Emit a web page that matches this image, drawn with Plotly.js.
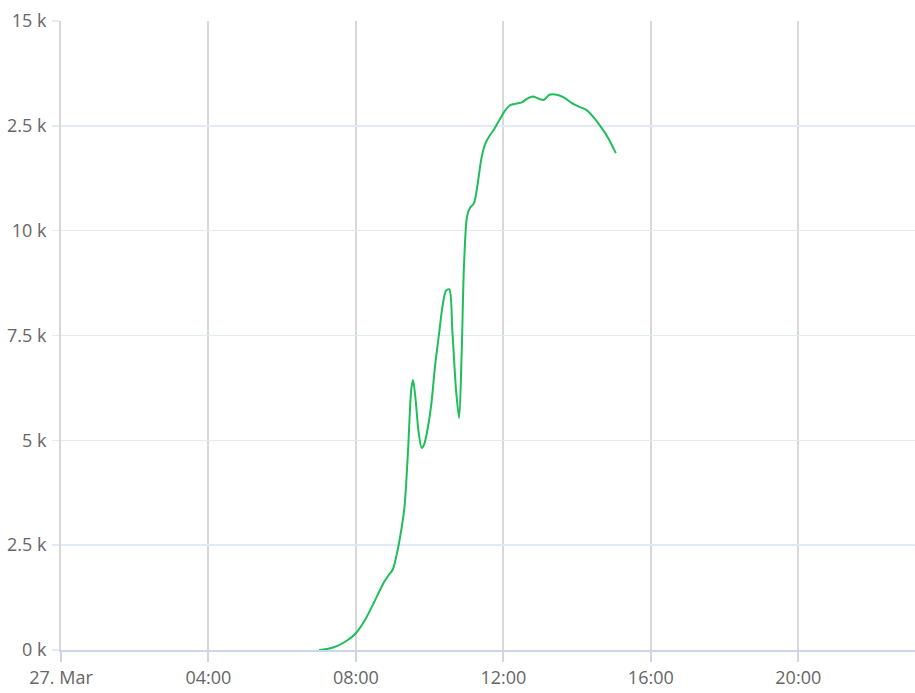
<!DOCTYPE html>
<html>
<head>
<meta charset="utf-8">
<script src="https://cdn.plot.ly/plotly-3.0.1.min.js"></script>
<style>html,body{margin:0;padding:0;background:#fff;}#chart{width:915px;height:693px;}</style>
</head>
<body>
<div id="chart"></div>
<script>
// Time of day (hours, 27 Mar) and power values (k)
const hours = [7.00,7.25,7.50,7.75,8.00,8.25,8.50,8.75,8.87,9.00,9.10,9.20,9.31,9.41,9.50,9.55,9.62,9.70,9.78,9.85,9.95,10.05,10.15,10.25,10.35,10.45,10.54,10.62,10.71,10.80,10.87,10.94,11.02,11.10,11.20,11.30,11.40,11.50,11.62,11.75,11.90,12.05,12.20,12.35,12.50,12.65,12.80,12.95,13.10,13.25,13.45,13.65,13.85,14.05,14.25,14.45,14.65,14.85,15.05];
const values = [0,0.03,0.1,0.22,0.4,0.72,1.15,1.6,1.76,1.92,2.25,2.7,3.4,4.8,6.2,6.44,6.0,5.2,4.82,4.9,5.3,5.9,6.8,7.5,8.2,8.58,8.6,7.6,6.2,5.53,7.0,9.2,10.35,10.55,10.65,11.1,11.7,12.05,12.25,12.42,12.65,12.87,13.0,13.03,13.06,13.15,13.2,13.15,13.12,13.24,13.24,13.17,13.05,12.96,12.88,12.7,12.47,12.2,11.85];
const yTickVals = [0,2.5,5,7.5,10,12.5,15];
const yTickText = ["0 k","2.5 k","5 k","7.5 k","10 k","2.5 k","15 k"];
const xTickHours = [0,4,8,12,16,20];
const xTickText = ["27. Mar","04:00","08:00","12:00","16:00","20:00"];

function toDate(h){
  const totalMin = Math.round(h*60);
  const hh = String(Math.floor(totalMin/60)).padStart(2,'0');
  const mm = String(totalMin%60).padStart(2,'0');
  return '2021-03-27 ' + hh + ':' + mm;
}
const xs = hours.map(toDate);
const xTickVals = xTickHours.map(toDate);

const trace = {
  x: xs, y: values, type: 'scatter', mode: 'lines',
  line: {color: '#1ebe5a', width: 2, shape: 'spline', smoothing: 0.8},
  hoverinfo: 'skip'
};
const font = {family: '"Open Sans", sans-serif', size: 18, color: '#666666'};
const layout = {
  width: 915, height: 693,
  margin: {l: 61, r: 0, t: 21, b: 43},
  paper_bgcolor: '#ffffff', plot_bgcolor: '#ffffff',
  showlegend: false,
  font: font,
  xaxis: {
    type: 'date',
    range: ['2021-03-27 00:00', '2021-03-27 23:10'],
    tickvals: xTickVals, ticktext: xTickText,
    showgrid: true, gridcolor: '#d8d8d8', gridwidth: 2,
    showline: true, linecolor: '#ccd6eb', linewidth: 2,
    ticks: 'outside', ticklen: 10, tickcolor: '#ccd6eb', tickwidth: 2,
    zeroline: false, tickfont: font
  },
  yaxis: {
    range: [0, 15],
    tickvals: yTickVals, ticktext: yTickText,
    showgrid: true, gridcolor: '#e1eaf6', gridwidth: 1.5,
    showline: true, linecolor: '#d8d8d8', linewidth: 2,
    ticks: 'outside', ticklen: 7, tickcolor: '#e1eaf6', tickwidth: 1.5,
    zeroline: false, tickfont: font, ticklabelstandoff: 2
  }
};
Plotly.newPlot('chart', [trace], layout, {displayModeBar: false, staticPlot: true});
</script>
</body>
</html>
